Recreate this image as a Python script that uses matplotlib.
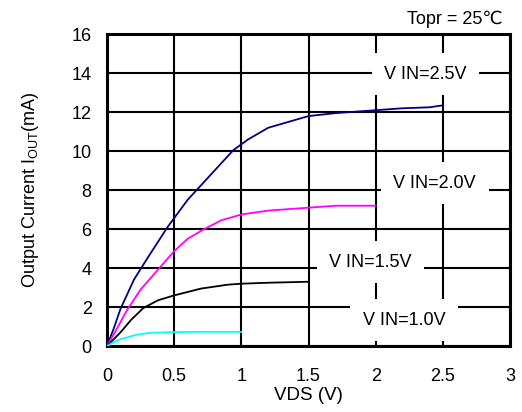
import matplotlib
matplotlib.use("Agg")
import matplotlib.pyplot as plt

plt.rcParams['font.family'] = ['Liberation Sans', 'DejaVu Sans']

# Data
vds_25 = [0, 0.05, 0.1, 0.2, 0.3, 0.45, 0.6, 0.8, 0.94, 1.05, 1.2, 1.35, 1.5, 1.7, 2.0, 2.2, 2.4, 2.5]
iout_25 = [0, 0.9, 1.9, 3.4, 4.5, 6.1, 7.5, 9.0, 10.05, 10.6, 11.2, 11.5, 11.8, 11.95, 12.1, 12.2, 12.25, 12.35]

vds_20 = [0, 0.05, 0.15, 0.25, 0.39, 0.5, 0.6, 0.71, 0.85, 1.0, 1.2, 1.5, 1.7, 2.0]
iout_20 = [0, 0.6, 1.85, 2.9, 4.0, 4.87, 5.5, 5.95, 6.45, 6.75, 6.95, 7.1, 7.2, 7.2]

vds_15 = [0, 0.05, 0.1, 0.18, 0.27, 0.38, 0.5, 0.7, 0.9, 1.0, 1.2, 1.5]
iout_15 = [0, 0.35, 0.7, 1.35, 1.95, 2.35, 2.6, 2.95, 3.15, 3.2, 3.25, 3.3]

vds_10 = [0, 0.05, 0.1, 0.15, 0.22, 0.32, 0.5, 0.7, 1.0]
iout_10 = [0, 0.2, 0.35, 0.45, 0.58, 0.68, 0.72, 0.73, 0.73]

labels = ["V IN=2.5V", "V IN=2.0V", "V IN=1.5V", "V IN=1.0V"]
label_x = [2.37, 2.44, 1.96, 2.21]
label_y = [13.95, 8.36, 4.3, 1.33]

xticks = [0, 0.5, 1, 1.5, 2, 2.5, 3]
xticklabels = ["0", "0.5", "1", "1.5", "2", "2.5", "3"]
yticks = [0, 2, 4, 6, 8, 10, 12, 14, 16]

FS = 13

fig = plt.figure(figsize=(5.22, 4.12), dpi=100)
ax = fig.add_axes([0.205, 0.160, 0.772, 0.757])

ax.set_xlim(0, 3)
ax.set_ylim(0, 16)
ax.set_xticks(xticks)
ax.set_xticklabels(xticklabels)
ax.set_yticks(yticks)
ax.grid(True, color='black', linewidth=1.5, zorder=1)
ax.set_axisbelow(True)
for s in ax.spines.values():
    s.set_linewidth(2.2)
ax.tick_params(axis='x', length=0, labelsize=FS, pad=16)
ax.tick_params(axis='y', length=0, labelsize=FS, pad=11)

ax.plot(vds_25, iout_25, color='#000080', lw=1.3, zorder=3)
ax.plot(vds_20, iout_20, color='#ff00ff', lw=1.3, zorder=3)
ax.plot(vds_15, iout_15, color='black', lw=1.3, zorder=3)
ax.plot(vds_10, iout_10, color='#00ffff', lw=1.3, zorder=3)

for t, x, y in zip(labels, label_x, label_y):
    ax.text(x, y, t, ha='center', va='center', fontsize=FS, zorder=2,
            bbox=dict(facecolor='white', edgecolor='none', pad=9))

ax.set_xlabel("VDS (V)", fontsize=FS + 0.5, labelpad=1)
ax.set_ylabel(r"Output Current I$\mathregular{_{OUT}}$(mA)", fontsize=FS, labelpad=22)
fig.text(0.872, 0.952, "Topr = 25℃", ha='center', va='center', fontsize=FS)

fig.savefig("out.png", dpi=100)
